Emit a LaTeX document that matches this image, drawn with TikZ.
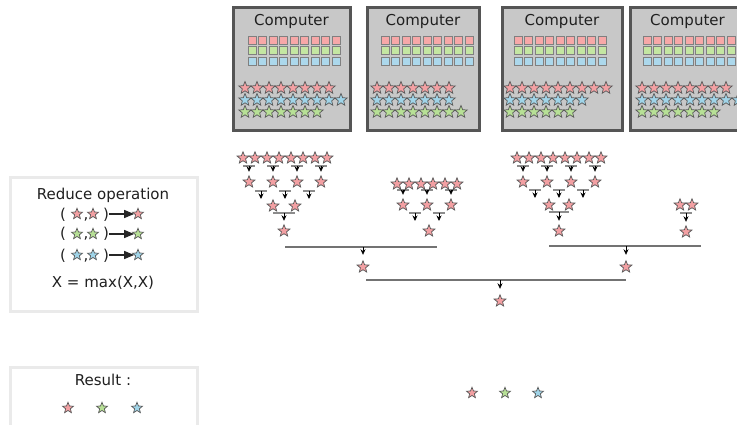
\documentclass[tikz,border=0pt]{standalone}
\usepackage{fontspec}
\setmainfont{DejaVu Sans}
\usepackage{tikz}
\usetikzlibrary{shapes.geometric,arrows.meta,calc}

\definecolor{starred}{RGB}{243,160,163}
\definecolor{stargreen}{RGB}{183,224,150}
\definecolor{starblue}{RGB}{160,212,232}
\definecolor{cellred}{RGB}{247,168,168}
\definecolor{cellgreen}{RGB}{196,230,162}
\definecolor{cellblue}{RGB}{172,216,236}
\definecolor{boxfill}{RGB}{200,200,200}
\definecolor{boxline}{RGB}{85,85,85}
\definecolor{legline}{RGB}{234,234,234}

\tikzset{
  token/.style={shape=star,star points=5,star point ratio=2.3,inner sep=0pt,
    minimum size=12.5pt,draw=black!65,line width=0.7pt},
  rs/.style={token,fill=starred},
  gs/.style={token,fill=stargreen},
  bs/.style={token,fill=starblue},
  cell/.style={draw=black!50,line width=0.6pt,minimum size=8pt,inner sep=0pt},
  computer/.style={draw=boxline,fill=boxfill,line width=3pt},
  legend/.style={draw=legline,line width=3pt},
  pairbar/.style={draw=black!45,line width=1.4pt},
  mergebar/.style={draw=black!55,line width=1.2pt},
  down/.style={-{Stealth[length=5.5pt,width=5pt]},line width=0.7pt,shorten >=3pt},
  opto/.style={-{Triangle[length=10pt,width=8pt]},line width=1.4pt,draw=black!85},
  txt/.style={font=\fontsize{15}{18}\selectfont,inner sep=0pt,text=black!88}
}

% bar under two stars, arrow down to the result
\newcommand{\reducepair}[4][8pt]{%
  \draw[pairbar] ([yshift=-#1]#2.center) -- ([yshift=-#1]#3.center);
  \draw[down] ($(#2.center)!0.5!(#3.center)+(0pt,-#1)$) -- (#4.north);
}
% short bar between two stars, arrow with a free end
\newcommand{\reduceside}[3][9pt]{%
  \draw[pairbar] ($(#2.center)!0.25!(#3.center)+(0pt,-#1)$)
    -- ($(#2.center)!0.75!(#3.center)+(0pt,-#1)$);
  \draw[down,shorten >=0pt] ($(#2.center)!0.5!(#3.center)+(0pt,-#1)$) -- ++(0pt,-8pt);
}

\begin{document}
\begin{tikzpicture}[x=1pt,y=-1pt]
  \useasboundingbox (0,0) rectangle (737,425);
  \clip (0,0) rectangle (737,425);

  % computers
  \foreach \bx/\bw/\n in {233/117/1,367/112/2,502/120/3,630/115/4}{
    \draw[computer] (\bx,8) rectangle ++(\bw,123);
    \node[txt] (pc\n) at (\bx+\bw/2,21) {Computer};
  }
  \foreach \sx/\n in {252/1,385/2,518/3,647/4}
    \foreach \c/\y/\r in {cellred/40/a,cellgreen/50.5/b,cellblue/61/c}
      \foreach \i in {0,...,8}
        \node[cell,fill=\c] (cell\n\r\i) at (\sx+10.5*\i,\y) {};
  \foreach \sx/\nr/\nb/\ng/\n in {245/8/9/7/1,377/7/7/8/2,510/9/7/6/3,642/8/9/7/4}{
    \foreach \i in {1,...,\nr} \node[rs,minimum size=13pt] (dr\n-\i) at (\sx+12*\i-12,88) {};
    \foreach \i in {1,...,\nb} \node[bs,minimum size=13pt] (db\n-\i) at (\sx+12*\i-12,100) {};
    \foreach \i in {1,...,\ng} \node[gs,minimum size=13pt] (dg\n-\i) at (\sx+12*\i-12,112) {};
  }

  % reduction, computer 1
  \foreach \i in {1,...,8} \node[rs] (ta\i) at (231+12*\i,158) {};
  \foreach \k in {1,...,4} \node[rs] (tb\k) at (225+24*\k,182) {};
  \foreach \i/\j/\k in {1/2/1,3/4/2,5/6/3,7/8/4} {\reducepair{ta\i}{ta\j}{tb\k}}
  \foreach \i/\j in {1/2,2/3,3/4} {\reduceside{tb\i}{tb\j}}
  \node[rs] (tc1) at (273,206) {};
  \node[rs] (tc2) at (295,206) {};
  \node[rs] (td) at (284,231) {};
  \reducepair[7pt]{tc1}{tc2}{td}

  % reduction, computer 2
  \foreach \i in {1,...,6} \node[rs] (ua\i) at (385+12*\i,184) {};
  \foreach \k in {1,2,3} \node[rs] (ub\k) at (379+24*\k,205) {};
  \foreach \i/\j/\k in {1/2/1,3/4/2,5/6/3} {\reducepair[6pt]{ua\i}{ua\j}{ub\k}}
  \foreach \i/\j in {1/2,2/3} {\reduceside[8pt]{ub\i}{ub\j}}
  \node[rs] (ud) at (429,231) {};

  % reduction, computer 3
  \foreach \i in {1,...,8} \node[rs] (va\i) at (505+12*\i,158) {};
  \foreach \k in {1,...,4} \node[rs] (vb\k) at (499+24*\k,182) {};
  \foreach \i/\j/\k in {1/2/1,3/4/2,5/6/3,7/8/4} {\reducepair{va\i}{va\j}{vb\k}}
  \foreach \i/\j in {1/2,2/3,3/4} {\reduceside[8pt]{vb\i}{vb\j}}
  \node[rs] (vc1) at (549,205) {};
  \node[rs] (vc2) at (569,205) {};
  \node[rs] (vd) at (559,231) {};
  \reducepair[7pt]{vc1}{vc2}{vd}

  % reduction, computer 4
  \node[rs] (wa1) at (680,205) {};
  \node[rs] (wa2) at (692,205) {};
  \node[rs] (wd) at (686,232) {};
  \reducepair{wa1}{wa2}{wd}

  % merging the partial results
  \coordinate (g1l) at (285,247); \coordinate (g1r) at (437,247);
  \coordinate (g2l) at (549,246); \coordinate (g2r) at (701,246);
  \coordinate (g3l) at (366,280); \coordinate (g3r) at (626,280);
  \node[rs] (g1) at (363,267) {};
  \node[rs] (g2) at (626,267) {};
  \node[rs] (g3) at (500,301) {};
  \foreach \g in {1,2,3}{
    \draw[mergebar] (g\g l) -- (g\g r);
    \draw[down,shorten >=5pt] (g\g l -| g\g) -- (g\g.north);
  }

  % final result
  \node[rs,minimum size=11.5pt] (out1) at (472,393) {};
  \node[gs,minimum size=11.5pt] (out2) at (505,393) {};
  \node[bs,minimum size=11.5pt] (out3) at (538,393) {};

  % legend
  \draw[legend] (10,178) rectangle (197,311);
  \node[txt] (optitle) at (103,195) {Reduce operation};
  \foreach \c/\y/\n in {rs/214/1,gs/234/2,bs/255/3}{
    \node[txt,anchor=base] (lp\n) at (63,\y+5) {(};
    \node[\c,minimum size=11.5pt] (la\n) at (77,\y) {};
    \node[txt,anchor=base] (lc\n) at (86,\y+5) {,};
    \node[\c,minimum size=11.5pt] (lb\n) at (93,\y) {};
    \node[txt,anchor=base] (lq\n) at (106,\y+5) {)};
    \node[\c,minimum size=11.5pt] (lr\n) at (138,\y) {};
    \draw[opto] (lq\n.east |- lr\n) -- (lr\n.west);
  }
  \node[txt] (opmax) at (103,283) {X = max(X,X)};

  \draw[legend] (10,367) rectangle (197,440);
  \node[txt] (restitle) at (103,380) {Result :};
  \node[rs,minimum size=11.5pt] (key1) at (68,408) {};
  \node[gs,minimum size=11.5pt] (key2) at (102,408) {};
  \node[bs,minimum size=11.5pt] (key3) at (137,408) {};
\end{tikzpicture}
\end{document}
